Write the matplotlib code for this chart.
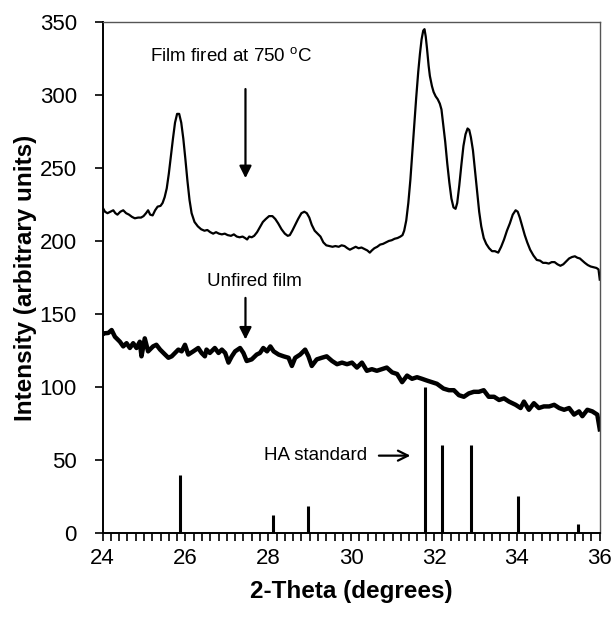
import matplotlib
matplotlib.use("Agg")
import matplotlib.pyplot as plt
from matplotlib.ticker import MultipleLocator

plt.rcParams['font.family'] = ['Liberation Sans', 'DejaVu Sans']
plt.rcParams['mathtext.fontset'] = 'custom'
plt.rcParams['mathtext.rm'] = 'Liberation Sans'

# Film fired at 750 C (2-theta, intensity)
fired_x = [24.00, 24.06, 24.12, 24.19, 24.26, 24.31, 24.36, 24.43, 24.50, 24.57, 24.64,
           24.71, 24.78, 24.86, 24.93, 24.99, 25.05, 25.10, 25.15, 25.21, 25.27, 25.33,
           25.40, 25.45, 25.50, 25.55, 25.60, 25.65, 25.70, 25.75, 25.80, 25.85, 25.90,
           25.95, 26.00, 26.05, 26.10, 26.15, 26.22, 26.30, 26.38, 26.46, 26.53, 26.60,
           26.67, 26.74, 26.81, 26.88, 26.95, 27.02, 27.10, 27.17, 27.24, 27.31, 27.38,
           27.44, 27.49, 27.54, 27.60, 27.66, 27.73, 27.80, 27.87, 27.94, 28.02, 28.10,
           28.17, 28.24, 28.32, 28.40, 28.47, 28.52, 28.58, 28.65, 28.72, 28.80, 28.87,
           28.93, 28.99, 29.05, 29.12, 29.19, 29.26, 29.33, 29.40, 29.47, 29.55, 29.62,
           29.70, 29.77, 29.84, 29.91, 29.97, 30.04, 30.11, 30.18, 30.25, 30.32, 30.39,
           30.45, 30.50, 30.56, 30.63, 30.70, 30.77, 30.84, 30.91, 30.98, 31.05, 31.12,
           31.19, 31.24, 31.28, 31.33, 31.38, 31.43, 31.47, 31.52, 31.57, 31.62, 31.66,
           31.70, 31.74, 31.77, 31.80, 31.83, 31.87, 31.90, 31.95, 31.99, 32.04, 32.09,
           32.14, 32.18, 32.22, 32.27, 32.32, 32.37, 32.42, 32.47, 32.52, 32.56, 32.61,
           32.66, 32.71, 32.76, 32.81, 32.85, 32.89, 32.94, 32.99, 33.04, 33.09, 33.14,
           33.20, 33.26, 33.33, 33.40, 33.47, 33.55, 33.62, 33.69, 33.76, 33.83, 33.90,
           33.97, 34.02, 34.07, 34.13, 34.19, 34.25, 34.32, 34.40, 34.48, 34.56, 34.63,
           34.70, 34.77, 34.84, 34.91, 34.98, 35.05, 35.12, 35.19, 35.26, 35.33, 35.40,
           35.46, 35.52, 35.58, 35.64, 35.71, 35.78, 35.85, 35.92, 35.97, 36.00]
fired_y = [223, 220, 219, 220, 221, 219, 218, 220, 221, 219, 218,
           216.5, 215.5, 216, 216, 217, 219, 221, 218, 217.5, 221, 223.5,
           224, 226, 230, 236, 246, 258, 270, 281, 287, 287, 281,
           270, 256, 241, 228, 219, 213, 210, 208, 207, 207.5, 206,
           205, 206, 205, 204.5, 205, 204, 203.5, 204.5, 203, 202.5, 203,
           202, 201, 203, 202.5, 203.5, 206, 209.5, 213, 215, 217, 217,
           215, 212, 208, 205, 203.5, 204, 207, 211, 215, 219, 220,
           219, 216, 211, 207, 205, 203, 199, 197, 196.5, 196, 196.5,
           196, 197, 196.5, 195, 194, 195, 196, 195, 195.5, 194.5, 193.5,
           192, 193.5, 195, 196, 197.5, 198, 199, 200, 200.5, 201.5, 202,
           203, 204, 207, 214, 226, 242, 258, 278, 298, 316, 328,
           338, 344, 345, 340, 332, 320, 313, 306, 302, 299, 297,
           294, 290, 280, 268, 253, 240, 229, 223, 222, 226, 238,
           252, 265, 273, 277, 276, 271, 262, 248, 234, 220, 210,
           202, 198, 195, 193, 193, 192, 196, 201, 207, 212, 218,
           221, 220, 216, 210, 204, 199, 194, 190, 187, 186.5, 185,
           185, 184.5, 185.5, 185.5, 184, 183, 184, 186, 188, 189, 189.5,
           188.5, 188, 186.5, 185, 183.5, 182.5, 182, 181.5, 180.5, 173.5]

# Unfired film
unfired_x = [24.00, 24.02, 24.14, 24.22, 24.30, 24.42, 24.50, 24.58, 24.66, 24.74, 24.82,
             24.90, 24.94, 25.02, 25.10, 25.22, 25.30, 25.39, 25.51, 25.59, 25.67, 25.75,
             25.83, 25.91, 25.99, 26.07, 26.19, 26.31, 26.39, 26.47, 26.51, 26.59, 26.71,
             26.80, 26.88, 26.96, 27.04, 27.12, 27.20, 27.32, 27.40, 27.48, 27.60, 27.72,
             27.80, 27.88, 27.97, 28.05, 28.13, 28.25, 28.37, 28.49, 28.57, 28.65, 28.77,
             28.89, 28.97, 29.05, 29.17, 29.29, 29.41, 29.54, 29.66, 29.78, 29.90, 30.02,
             30.14, 30.26, 30.38, 30.50, 30.62, 30.74, 30.86, 30.99, 31.11, 31.23, 31.35,
             31.47, 31.59, 31.71, 31.83, 31.95, 32.07, 32.23, 32.36, 32.48, 32.60, 32.72,
             32.84, 32.96, 33.08, 33.20, 33.32, 33.45, 33.57, 33.69, 33.81, 33.97, 34.09,
             34.17, 34.29, 34.41, 34.53, 34.65, 34.78, 34.90, 35.02, 35.14, 35.26, 35.38,
             35.50, 35.58, 35.70, 35.82, 35.94, 36.00]
unfired_y = [136, 136.7, 137, 139, 134.4, 131, 127.8, 130, 126.7, 130, 126.7,
             131, 121, 133.3, 124.4, 127.8, 128.9, 125.6, 122.2, 120, 121, 123.3,
             125.6, 124.4, 128.9, 122.2, 124.4, 126.7, 123.3, 121, 125.6, 123.3, 126.7,
             123.3, 125.6, 123.3, 116.7, 121, 124.4, 126.7, 123.3, 117.8, 118.9, 122.2,
             123.3, 126.7, 124.4, 127.8, 124.4, 122.2, 121, 120, 114.4, 120, 122.2,
             125.6, 121, 114.4, 118.9, 120, 121, 117.8, 115.6, 116.7, 115.6, 116.7,
             113.3, 116.7, 111.1, 112.2, 111.1, 112.2, 113.3, 110, 108.9, 103.3, 107.8,
             105.6, 106.7, 105.6, 104.4, 103.3, 102.2, 98.9, 97.8, 97.8, 94.4, 93.3,
             95.6, 96.7, 96.7, 97.8, 93.3, 93.3, 91.1, 92.2, 90, 87.8, 85.6,
             90, 84.4, 88.9, 85.6, 86.7, 86.7, 87.8, 85.6, 84.4, 85.6, 81.1,
             83.3, 80, 84.4, 83.3, 81.1, 71]

# HA standard stick pattern
ha_x = [25.88, 28.12, 28.96, 31.78, 32.19, 32.90, 34.03, 35.47]
ha_y = [40, 12.5, 18.5, 100, 60.5, 60.5, 25.5, 6]

x_ticks = [24, 26, 28, 30, 32, 34, 36]
y_ticks = [0, 50, 100, 150, 200, 250, 300, 350]

fig = plt.figure(figsize=(6.12, 6.43), dpi=100)
ax = fig.add_axes([0.1675, 0.171, 0.8125, 0.795])

ax.plot(fired_x, fired_y, color='black', lw=1.6, solid_joinstyle='round')
ax.plot(unfired_x, unfired_y, color='black', lw=3.2, solid_joinstyle='round')
ax.vlines(ha_x, 0, ha_y, color='black', lw=2.2)

ax.set_xlim(24, 36)
ax.set_ylim(0, 350)
ax.set_xticks(x_ticks)
ax.set_yticks(y_ticks)
ax.xaxis.set_minor_locator(MultipleLocator(0.2))
ax.tick_params(axis='x', which='both', direction='out', length=6, width=1.2,
               labelsize=16, pad=4.5, top=False)
ax.tick_params(axis='y', which='major', direction='out', length=6, width=1.2,
               labelsize=16, pad=12.5, right=False)
for s in ['left', 'bottom']:
    ax.spines[s].set_linewidth(1.4)
    ax.spines[s].set_color('black')
for s in ['top', 'right']:
    ax.spines[s].set_linewidth(1.0)
    ax.spines[s].set_color('#555555')

ax.set_xlabel('2-Theta (degrees)', fontsize=17.5, fontweight='bold', labelpad=8)
ax.set_ylabel('Intensity (arbitrary units)', fontsize=17.5, fontweight='bold', labelpad=2)

ax.text(27.1, 326, r'Film fired at 750 $^{\rm o}$C', fontsize=13.5, ha='center', va='center')
ax.annotate('', xy=(27.45, 243), xytext=(27.45, 304),
            arrowprops=dict(arrowstyle='-|>', color='black', lw=1.6,
                            mutation_scale=18, shrinkA=0, shrinkB=0))
ax.text(27.67, 172, 'Unfired film', fontsize=13.5, ha='center', va='center')
ax.annotate('', xy=(27.45, 132.5), xytext=(27.45, 161),
            arrowprops=dict(arrowstyle='-|>', color='black', lw=1.6,
                            mutation_scale=18, shrinkA=0, shrinkB=0))
ax.text(29.15, 53, 'HA standard', fontsize=13.5, ha='center', va='center')
ax.annotate('', xy=(31.43, 53), xytext=(30.67, 53),
            arrowprops=dict(arrowstyle='->', color='black', lw=1.6,
                            mutation_scale=18, shrinkA=0, shrinkB=0))

fig.savefig('out.png', dpi=100)
